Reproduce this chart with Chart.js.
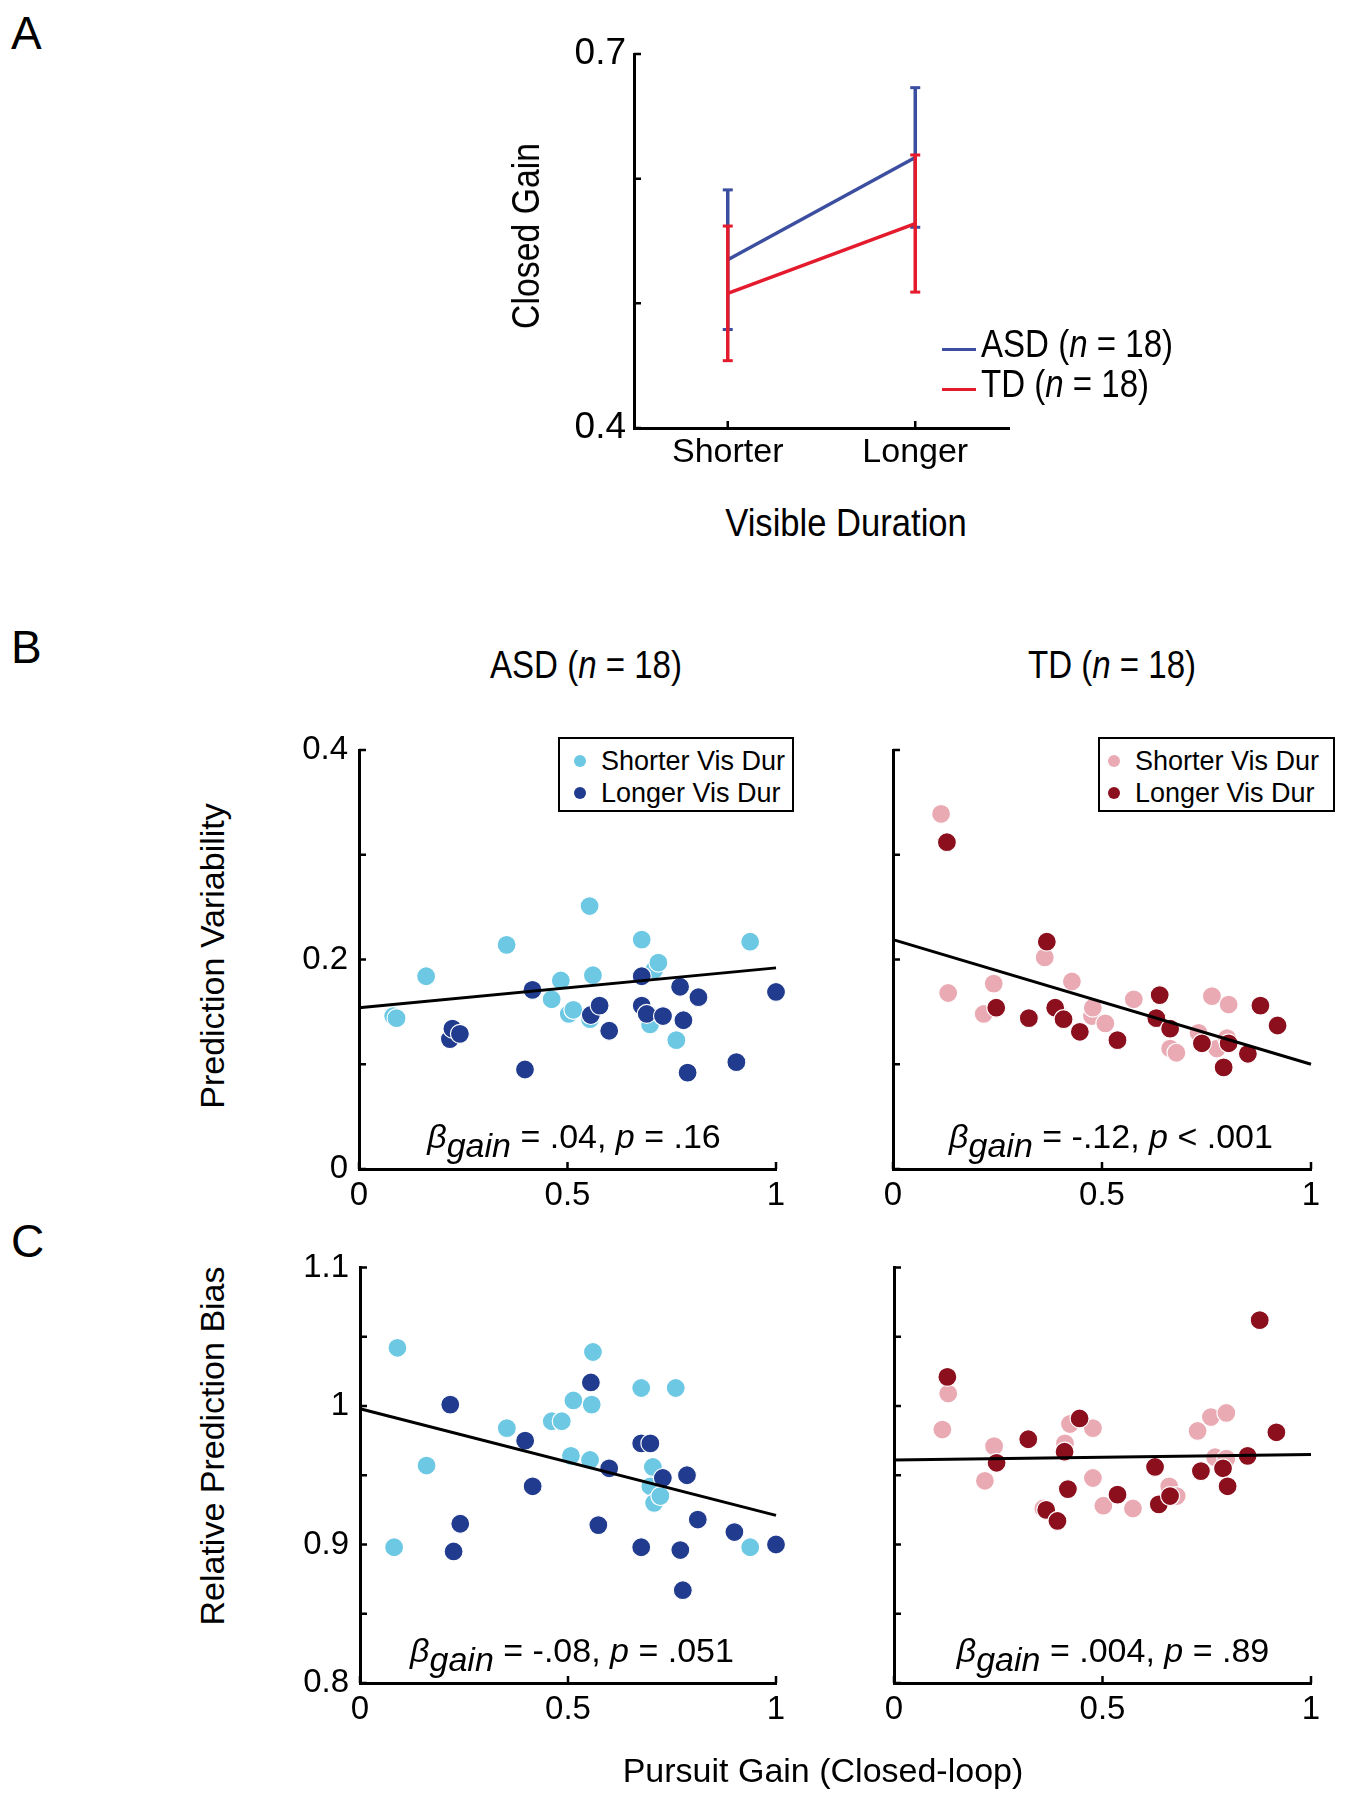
<!DOCTYPE html>
<html>
<head>
<meta charset="utf-8">
<title>Closed gain, prediction variability and bias</title>
<script src="https://cdn.jsdelivr.net/npm/chart.js@4.4.0/dist/chart.umd.min.js"></script>
<style>
  body { margin: 0; background: #fff; }
  #page { position: relative; width: 1351px; height: 1800px; overflow: hidden;
          font-family: "Liberation Sans", Arial, Helvetica, sans-serif; color: #000; }
  canvas { position: absolute; }
  .txt { position: absolute; line-height: 1; white-space: nowrap; }
  .panel { font-size: 46px; left: 11px; }
  .head { font-size: 38px; top: 646px; transform: translateX(-50%) scaleX(0.87); }
  .title { font-size: 34px; transform: translate(-50%, -50%) rotate(-90deg); }
  .stat { font-size: 34px; transform: translateX(-50%); }
  .stat .sub { position: relative; top: 9px; }
  .lgA { position: absolute; height: 3px; width: 34px; left: 942px; }
  .lgAtxt { font-size: 38px; left: 981px; transform: scaleX(0.87); transform-origin: 0 50%; }
  .box { position: absolute; top: 737px; height: 75px; border: 2px solid #000; box-sizing: border-box;
         padding-top: 6px; font-size: 27px; background: #fff; }
  .box div { height: 32px; line-height: 32px; white-space: nowrap; }
  .dot { display: inline-block; width: 12px; height: 12px; border-radius: 50%; vertical-align: middle;
         position: relative; top: -2px; }
</style>
</head>
<body>
<div id="page">
  <canvas id="chartA"></canvas>
  <canvas id="chartB1"></canvas>
  <canvas id="chartB2"></canvas>
  <canvas id="chartC1"></canvas>
  <canvas id="chartC2"></canvas>

  <div class="txt panel" style="top:10px">A</div>
  <div class="txt panel" style="top:624px">B</div>
  <div class="txt panel" style="top:1218px">C</div>

  <div class="txt" style="left:526px; top:236px; font-size:38px; transform:translate(-50%,-50%) rotate(-90deg) scaleX(0.89)">Closed Gain</div>
  <div class="txt" style="left:846px; top:523px; font-size:38px; transform:translate(-50%,-50%) scaleX(0.91)">Visible Duration</div>
  <div class="lgA" style="top:348px; background:#3c4ea0"></div>
  <div class="lgA" style="top:388px; background:#e41b2d"></div>
  <div class="txt lgAtxt" style="top:325px">ASD (<i>n</i> = 18)</div>
  <div class="txt lgAtxt" style="top:365px">TD (<i>n</i> = 18)</div>

  <div class="txt head" style="left:586px">ASD (<i>n</i> = 18)</div>
  <div class="txt head" style="left:1112px">TD (<i>n</i> = 18)</div>

  <div class="txt title" style="left:212px; top:956px">Prediction Variability</div>
  <div class="txt title" style="left:212px; top:1446px">Relative Prediction Bias</div>
  <div class="txt" style="left:823px; top:1770px; font-size:34px; transform:translate(-50%,-50%)">Pursuit Gain (Closed-loop)</div>

  <div class="txt stat" style="left:574px; top:1119px"><i>β</i><i class="sub">gain</i> = .04, <i>p</i> = .16</div>
  <div class="txt stat" style="left:1111px; top:1119px"><i>β</i><i class="sub">gain</i> = -.12, <i>p</i> &lt; .001</div>
  <div class="txt stat" style="left:572px; top:1633px"><i>β</i><i class="sub">gain</i> = -.08, <i>p</i> = .051</div>
  <div class="txt stat" style="left:1113px; top:1633px"><i>β</i><i class="sub">gain</i> = .004, <i>p</i> = .89</div>

  <div class="box" style="left:558px; width:236px; padding-left:14px">
    <div><span class="dot" style="background:#6dc8e3"></span>&nbsp;&nbsp;Shorter Vis Dur</div>
    <div><span class="dot" style="background:#213b8f"></span>&nbsp;&nbsp;Longer Vis Dur</div>
  </div>
  <div class="box" style="left:1098px; width:237px; padding-left:8px">
    <div><span class="dot" style="background:#eaaab3"></span>&nbsp;&nbsp;Shorter Vis Dur</div>
    <div><span class="dot" style="background:#8c0f1e"></span>&nbsp;&nbsp;Longer Vis Dur</div>
  </div>
</div>

<script>
// Panel A: closed-loop gain per visible duration (mean, error)
const durations = ["Shorter", "Longer"];
const durPos = [0.5, 1.5];
const asdGain = [0.535, 0.617];
const asdErr = [0.056, 0.056];
const tdGain = [0.508, 0.564];
const tdErr = [0.054, 0.055];
const closedTicks = [0.4, 0.5, 0.6, 0.7];
const closedTickLabels = ["0.4", "", "", "0.7"];

// Axis ticks for B and C
const pursuitTicks = [0, 0.5, 1];
const pursuitTickLabels = ["0", "0.5", "1"];
const varTicks = [0, 0.1, 0.2, 0.3, 0.4];
const varTickLabels = ["0", "", "0.2", "", "0.4"];
const varTickLabelsOff = ["", "", "", "", ""];
const biasTicks = [0.8, 0.85, 0.9, 0.95, 1, 1.05, 1.1];
const biasTickLabels = ["0.8", "", "0.9", "", "1", "", "1.1"];
const biasTickLabelsOff = ["", "", "", "", "", "", ""];

// B, ASD: prediction variability
const asdShortGainB = [0.082, 0.090, 0.161, 0.354, 0.462, 0.484, 0.503, 0.514, 0.553, 0.554, 0.561, 0.678, 0.694, 0.698, 0.708, 0.718, 0.761, 0.938];
const asdShortVarB  = [0.146, 0.144, 0.184, 0.214, 0.162, 0.180, 0.148, 0.152, 0.251, 0.143, 0.185, 0.219, 0.148, 0.138, 0.190, 0.197, 0.123, 0.217];
const asdLongGainB = [0.218, 0.224, 0.242, 0.398, 0.416, 0.556, 0.577, 0.600, 0.678, 0.678, 0.690, 0.729, 0.770, 0.778, 0.788, 0.814, 0.905, 1.0];
const asdLongVarB  = [0.124, 0.134, 0.129, 0.095, 0.171, 0.147, 0.156, 0.132, 0.184, 0.156, 0.148, 0.146, 0.174, 0.142, 0.092, 0.164, 0.102, 0.169];
const asdFitB = [0.154, 0.192];   // fitted line at gain 0 and 1

// B, TD
const tdShortGainB = [0.115, 0.132, 0.217, 0.241, 0.363, 0.392, 0.428, 0.476, 0.478, 0.508, 0.576, 0.663, 0.678, 0.731, 0.763, 0.775, 0.799, 0.803];
const tdShortVarB  = [0.339, 0.168, 0.148, 0.177, 0.202, 0.152, 0.179, 0.146, 0.154, 0.139, 0.162, 0.115, 0.111, 0.130, 0.165, 0.115, 0.125, 0.157];
const tdLongGainB = [0.129, 0.247, 0.325, 0.368, 0.388, 0.408, 0.447, 0.537, 0.630, 0.638, 0.663, 0.739, 0.791, 0.803, 0.849, 0.879, 0.920];
const tdLongVarB  = [0.312, 0.154, 0.144, 0.217, 0.154, 0.143, 0.131, 0.123, 0.144, 0.166, 0.134, 0.120, 0.097, 0.120, 0.110, 0.156, 0.137];
const tdFitB = [0.219, 0.100];

// C, ASD: relative prediction bias
const asdShortGainC = [0.082, 0.090, 0.160, 0.353, 0.461, 0.485, 0.507, 0.513, 0.553, 0.557, 0.560, 0.676, 0.698, 0.704, 0.707, 0.722, 0.759, 0.938];
const asdShortBiasC = [0.898, 1.042, 0.957, 0.984, 0.989, 0.989, 0.964, 1.004, 0.961, 1.001, 1.039, 1.013, 0.942, 0.956, 0.930, 0.935, 1.013, 0.898];
const asdLongGainC = [0.217, 0.225, 0.241, 0.397, 0.415, 0.555, 0.573, 0.599, 0.676, 0.676, 0.698, 0.728, 0.770, 0.776, 0.786, 0.812, 0.900, 1.0];
const asdLongBiasC = [1.001, 0.895, 0.915, 0.975, 0.942, 1.017, 0.914, 0.955, 0.973, 0.898, 0.973, 0.948, 0.896, 0.867, 0.950, 0.918, 0.909, 0.900];
const asdFitC = [0.998, 0.921];

// C, TD
const tdShortGainC = [0.116, 0.130, 0.218, 0.240, 0.358, 0.410, 0.422, 0.477, 0.477, 0.502, 0.573, 0.660, 0.678, 0.728, 0.760, 0.770, 0.797, 0.797];
const tdShortBiasC = [0.983, 1.009, 0.946, 0.971, 0.926, 0.973, 0.987, 0.984, 0.948, 0.928, 0.926, 0.942, 0.935, 0.982, 0.992, 0.963, 0.995, 0.962];
const tdLongGainC = [0.128, 0.246, 0.322, 0.365, 0.392, 0.409, 0.417, 0.445, 0.536, 0.626, 0.635, 0.662, 0.736, 0.789, 0.800, 0.848, 0.877, 0.917];
const tdLongBiasC = [1.021, 0.959, 0.976, 0.925, 0.917, 0.967, 0.940, 0.991, 0.936, 0.956, 0.929, 0.935, 0.953, 0.955, 0.942, 0.964, 1.062, 0.981];
const tdFitC = [0.961, 0.965];

const sansFont = "'Liberation Sans', Arial, Helvetica, sans-serif";
Chart.defaults.color = "#000";

// MATLAB-like ticks pointing into the plot
const inwardTicks = {
  id: "inwardTicks",
  afterDraw(chart, args, opts) {
    const { ctx, chartArea, scales } = chart;
    ctx.save();
    ctx.strokeStyle = "#000";
    ctx.lineWidth = opts.width;
    ctx.beginPath();
    scales.x.ticks.forEach(t => {
      const px = scales.x.getPixelForValue(t.value);
      ctx.moveTo(px, chartArea.bottom);
      ctx.lineTo(px, chartArea.bottom - opts.len);
    });
    scales.y.ticks.forEach(t => {
      const py = scales.y.getPixelForValue(t.value);
      ctx.moveTo(chartArea.left, py);
      ctx.lineTo(chartArea.left + opts.len, py);
    });
    ctx.stroke();
    ctx.restore();
  }
};

function pts(xs, ys) {
  return xs.map((x, i) => ({ x: x, y: ys[i] }));
}

// vertical error bars, one segment per category, broken by a null point
function errBars(xs, means, errs) {
  const out = [];
  xs.forEach((x, i) => {
    if (i > 0) out.push({ x: x, y: null });
    out.push({ x: x, y: means[i] - errs[i] }, { x: x, y: means[i] + errs[i] });
  });
  return out;
}

function axis(isX, min, max, values, labels, size, font, padding) {
  return {
    type: "linear", min: min, max: max,
    grid: { display: false, drawTicks: false },
    border: { display: true, color: "#000", width: 3 },
    afterBuildTicks: s => { s.ticks = values.map(v => ({ value: v })); },
    afterFit: s => { if (isX) s.height = size; else s.width = size; },
    ticks: { callback: (v, i) => labels[i], font: font, color: "#000", padding: padding,
             autoSkip: false, maxRotation: 0 }
  };
}

function setupCanvas(id, rect) {
  const cv = document.getElementById(id);
  cv.style.left = rect.x + "px";
  cv.style.top = rect.y + "px";
  cv.width = rect.w;
  cv.height = rect.h;
  return cv;
}

function baseOptions(rect, area) {
  return {
    responsive: false, animation: false, devicePixelRatio: 1,
    layout: { padding: { top: area.top - rect.y, right: rect.x + rect.w - area.right, left: 0, bottom: 0 } },
    plugins: { legend: { display: false }, tooltip: { enabled: false },
               inwardTicks: { len: 7, width: 2.5 } }
  };
}

// ---- Panel A ----
(function () {
  const rect = { x: 480, y: 0, w: 580, h: 490 };
  const area = { left: 634, top: 54, right: 1009, bottom: 428 };
  const cv = setupCanvas("chartA", rect);
  const opts = baseOptions(rect, area);
  opts.scales = {
    x: axis(true, 0, 2, durPos, durations, rect.y + rect.h - area.bottom,
            { family: sansFont, size: 34, lineHeight: 1 }, 8),
    y: axis(false, 0.4, 0.7, closedTicks, closedTickLabels, area.left - rect.x,
            { family: sansFont, size: 37, lineHeight: 1 }, 8)
  };
  const red = "#e41b2d", blue = "#3c4ea0";
  new Chart(cv, {
    type: "scatter",
    data: {
      datasets: [
        { label: "TD", data: pts(durPos, tdGain), showLine: true, borderColor: red, borderWidth: 3.5, pointRadius: 0 },
        { label: "TD err", data: errBars(durPos, tdGain, tdErr), showLine: true, spanGaps: false,
          borderColor: red, borderWidth: 3.5, pointStyle: "line", pointRadius: 5, pointBorderWidth: 3,
          pointBorderColor: red },
        { label: "ASD", data: pts(durPos, asdGain), showLine: true, borderColor: blue, borderWidth: 3.5, pointRadius: 0 },
        { label: "ASD err", data: errBars(durPos, asdGain, asdErr), showLine: true, spanGaps: false,
          borderColor: blue, borderWidth: 3.5, pointStyle: "line", pointRadius: 5, pointBorderWidth: 3,
          pointBorderColor: blue }
      ]
    },
    options: opts,
    plugins: [inwardTicks]
  });
})();

// ---- Panels B and C ----
function scatterPanel(id, rect, area, cfg) {
  const cv = setupCanvas(id, rect);
  const opts = baseOptions(rect, area);
  const tickFont = { family: sansFont, size: 33, lineHeight: 1 };
  opts.scales = {
    x: axis(true, 0, 1, pursuitTicks, pursuitTickLabels, rect.y + rect.h - area.bottom, tickFont, 10),
    y: axis(false, cfg.yMin, cfg.yMax, cfg.yTicks, cfg.yLabels, area.left - rect.x, tickFont, 11)
  };
  const dot = color => ({ backgroundColor: color, pointRadius: 9.5, pointHoverRadius: 9.5,
                          pointBorderColor: "#fff", pointBorderWidth: 1.2, clip: false });
  return new Chart(cv, {
    type: "scatter",
    data: {
      datasets: [
        { label: "fit", type: "line", data: [{ x: 0, y: cfg.fit[0] }, { x: 1, y: cfg.fit[1] }],
          borderColor: "#000", borderWidth: 3, pointRadius: 0, clip: false },
        Object.assign({ label: "Longer Vis Dur", data: pts(cfg.longX, cfg.longY) }, dot(cfg.dark)),
        Object.assign({ label: "Shorter Vis Dur", data: pts(cfg.shortX, cfg.shortY) }, dot(cfg.light))
      ]
    },
    options: opts,
    plugins: [inwardTicks]
  });
}

const lightBlue = "#6dc8e3", darkBlue = "#213b8f", lightRed = "#eaaab3", darkRed = "#8c0f1e";

scatterPanel("chartB1", { x: 260, y: 700, w: 560, h: 540 }, { left: 359, top: 750, right: 776, bottom: 1169 }, {
  yMin: 0, yMax: 0.4, yTicks: varTicks, yLabels: varTickLabels, fit: asdFitB,
  shortX: asdShortGainB, shortY: asdShortVarB, longX: asdLongGainB, longY: asdLongVarB,
  light: lightBlue, dark: darkBlue
});
scatterPanel("chartB2", { x: 860, y: 700, w: 490, h: 540 }, { left: 893, top: 750, right: 1311, bottom: 1169 }, {
  yMin: 0, yMax: 0.4, yTicks: varTicks, yLabels: varTickLabelsOff, fit: tdFitB,
  shortX: tdShortGainB, shortY: tdShortVarB, longX: tdLongGainB, longY: tdLongVarB,
  light: lightRed, dark: darkRed
});
scatterPanel("chartC1", { x: 260, y: 1240, w: 560, h: 530 }, { left: 360, top: 1265, right: 776, bottom: 1683 }, {
  yMin: 0.8, yMax: 1.1, yTicks: biasTicks, yLabels: biasTickLabels, fit: asdFitC,
  shortX: asdShortGainC, shortY: asdShortBiasC, longX: asdLongGainC, longY: asdLongBiasC,
  light: lightBlue, dark: darkBlue
});
scatterPanel("chartC2", { x: 860, y: 1240, w: 490, h: 530 }, { left: 894, top: 1265, right: 1311, bottom: 1683 }, {
  yMin: 0.8, yMax: 1.1, yTicks: biasTicks, yLabels: biasTickLabelsOff, fit: tdFitC,
  shortX: tdShortGainC, shortY: tdShortBiasC, longX: tdLongGainC, longY: tdLongBiasC,
  light: lightRed, dark: darkRed
});
</script>
</body>
</html>
